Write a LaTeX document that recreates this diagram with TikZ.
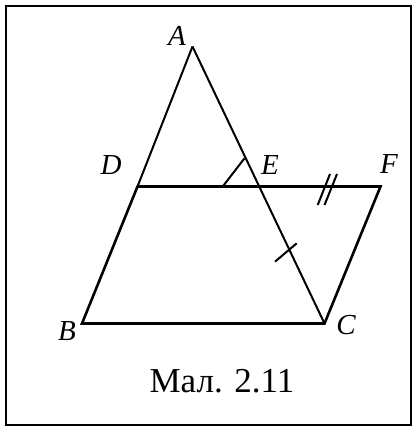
\documentclass[tikz,border=0pt]{standalone}
\usepackage{fontspec}
\setmainfont{Liberation Serif}
\usepackage{tikz}
\usetikzlibrary{positioning}

\begin{document}
\begin{tikzpicture}[
  x=1pt, y=-1pt,
  side/.style={line width=2.6pt, line cap=round, line join=miter},
  thin side/.style={line width=2pt},
  tick/.style={line width=2pt},
  lbl/.style={font=\fontsize{29}{33}\selectfont\itshape, inner sep=0pt},
  caption/.style={font=\fontsize{35}{40}\selectfont, inner sep=0pt}
]
\useasboundingbox (0,0) rectangle (412,427);
\draw[line width=2pt] (6,6) rectangle (411,425);
% vertices
\coordinate (A) at (192.5,46.5);
\coordinate (B) at (82,323.5);
\coordinate (C) at (324.5,323.5);
\coordinate (D) at (137.5,186.5);
\coordinate (F) at (380.5,186.5);
\coordinate (E) at (258,186.5);
% figure
\draw[thin side] (A) -- (D);
\draw[side] (D) -- (B) -- (C) -- (F) -- (D);
\draw[thin side] (A) -- (C);
% angle mark and ticks
\coordinate (m1) at (222.7,186.5);
\coordinate (m2) at (244.5,158.3);
\draw[tick] (m1) -- (m2);
\coordinate (t1) at (275,261.7);
\coordinate (t2) at (296.7,243.3);
\draw[tick] (t1) -- (t2);
\coordinate (u1) at (317.7,205);
\coordinate (u2) at (330,174);
\coordinate (v1) at (324.5,205);
\coordinate (v2) at (337,174);
\draw[tick] (u1) -- (u2);
\draw[tick] (v1) -- (v2);
% labels
\node[lbl] (lA) at (177,36) {A};
\node[lbl] (lB) at (67,331) {B};
\node[lbl] (lC) at (346,325) {C};
\node[lbl] (lD) at (111,165) {D};
\node[lbl] (lE) at (270,165) {E};
\node[lbl] (lF) at (389,164) {F};
\node[caption] (cap) at (222,381) {Мал. 2.11};
\end{tikzpicture}
\end{document}
